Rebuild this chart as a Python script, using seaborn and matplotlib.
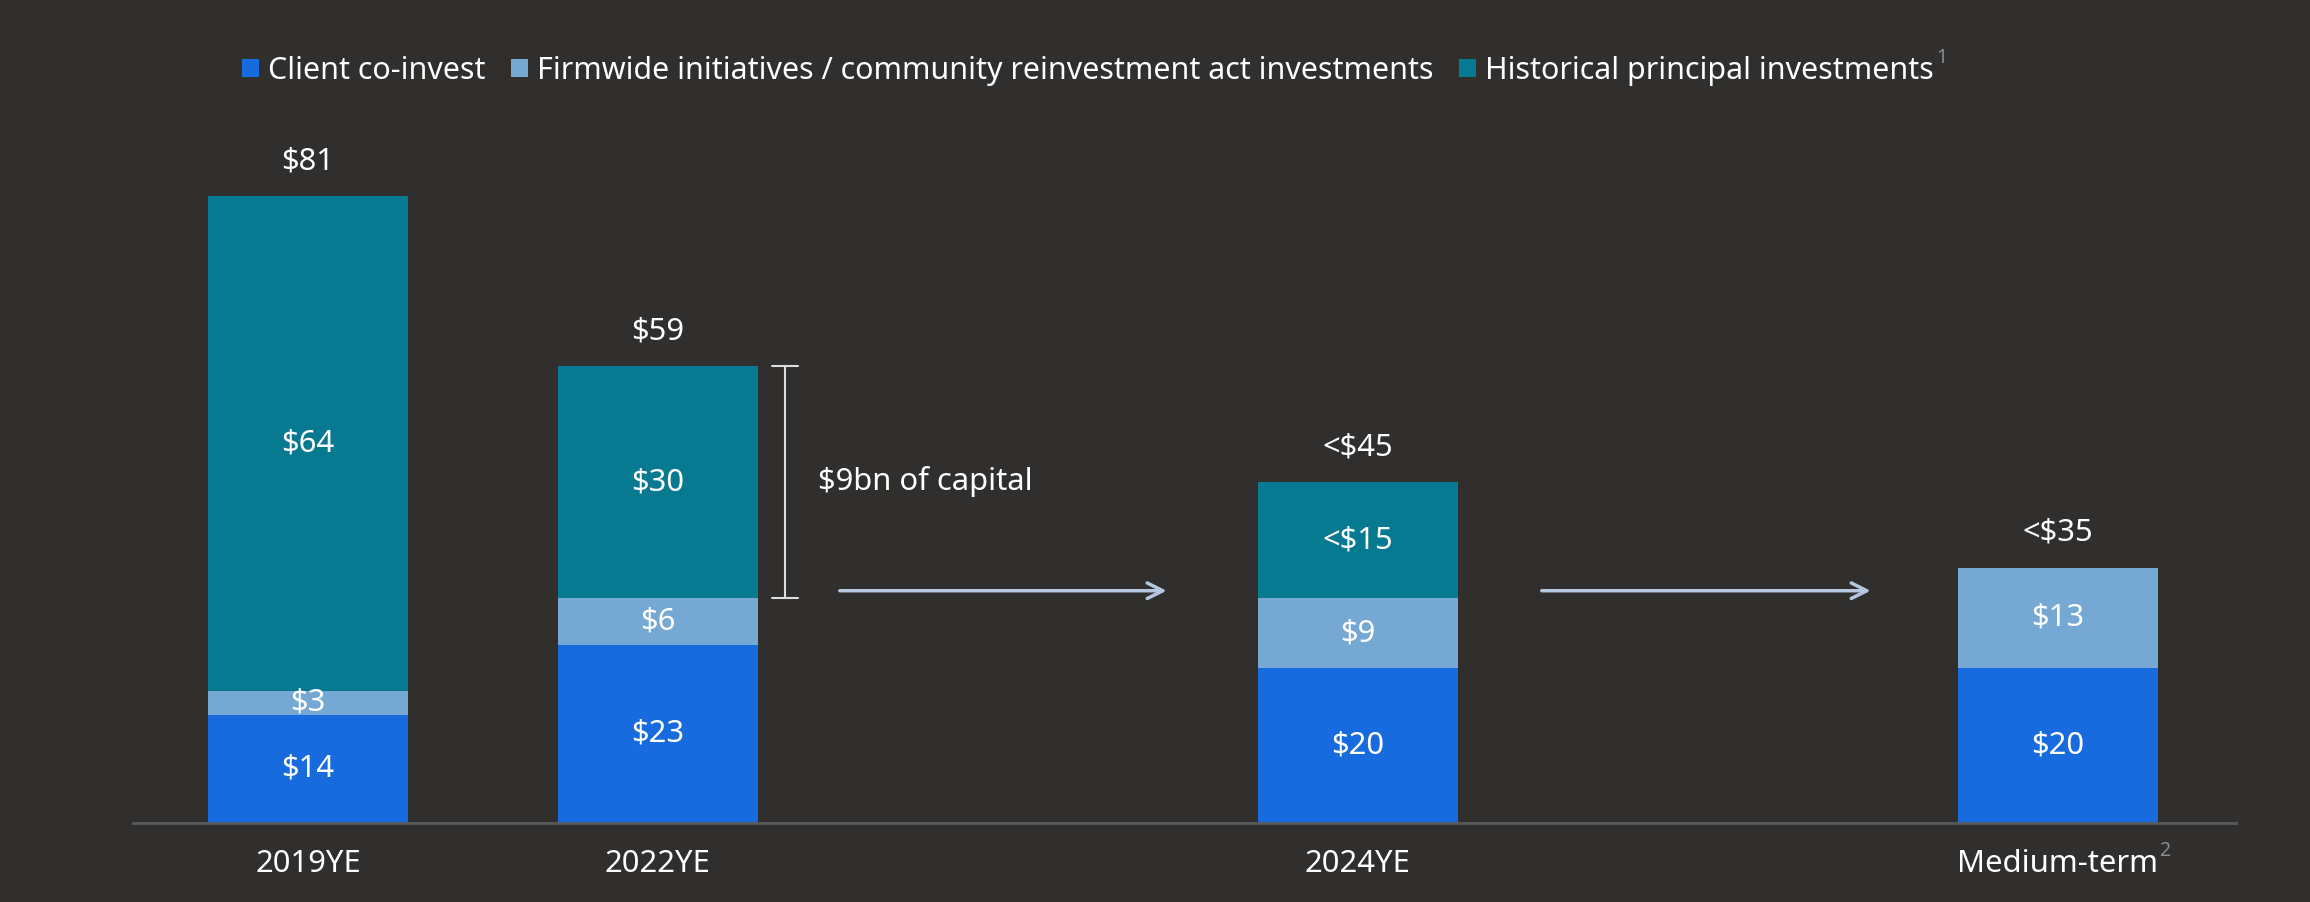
import numpy as np
import pandas as pd
import seaborn as sns
import matplotlib
matplotlib.use("Agg")
import matplotlib.pyplot as plt
from matplotlib.patches import Patch

# ---------------- data ----------------
categories = ["2019YE", "2022YE", "2024YE", "Medium-term"]
positions = [0, 1, 3, 5]
client = [14, 23, 20, 20]
firmwide = [3, 6, 9, 13]
historical = [64, 30, 15, 0]
client_labels = ["$14", "$23", "$20", "$20"]
firmwide_labels = ["$3", "$6", "$9", "$13"]
historical_labels = ["$64", "$30", "<$15", ""]
total_labels = ["$81", "$59", "<$45", "<$35"]
series_names = ["Client co-invest",
                "Firmwide initiatives / community reinvestment act investments",
                "Historical principal investments"]

# ---------------- style ----------------
BG = "#312F2D"
C_BLUE = "#186BDF"
C_LIGHT = "#75A8D2"
C_TEAL = "#077A91"
ARROW = "#B4C6E0"
GREY = "#8C8C8C"
FS = 22.3
LFS = 21.9

sns.set_theme(style="dark", rc={"axes.facecolor": BG, "figure.facecolor": BG})
plt.rcParams["font.family"] = ["Noto Sans", "DejaVu Sans"]

df = pd.DataFrame({
    "category": categories,
    "pos": positions,
    "client": client,
    "firmwide": firmwide,
    "historical": historical,
})
df["lvl2"] = df["client"] + df["firmwide"]
df["total"] = df["lvl2"] + df["historical"]

W, H = 2310, 902
fig = plt.figure(figsize=(W / 100, H / 100), dpi=100, facecolor=BG)
ax = fig.add_axes([133 / W, 79 / H, (2236 - 133) / W, 823 / H])
ax.set_facecolor(BG)

bw = 200 / 350
common = dict(native_scale=True, width=bw, errorbar=None, saturation=1,
              linewidth=0, ax=ax)
sns.barplot(data=df, x="pos", y="total", color=C_TEAL, **common)
sns.barplot(data=df, x="pos", y="lvl2", color=C_LIGHT, **common)
sns.barplot(data=df, x="pos", y="client", color=C_BLUE, **common)

ax.set_xlim(-0.5, 5.51)
ax.set_ylim(0, 106.3)
ax.set_xlabel("")
ax.set_ylabel("")
ax.set_yticks([])
ax.set_xticks(positions)
ax.set_xticklabels(categories, color="white", fontsize=FS)
ax.tick_params(axis="x", length=0, pad=19)
for s in ["top", "left", "right"]:
    ax.spines[s].set_visible(False)
ax.spines["bottom"].set_color("#5A5A5A")
ax.spines["bottom"].set_linewidth(2)
ax.grid(False)

# segment labels
for i, p in enumerate(positions):
    c, f, h = client[i], firmwide[i], historical[i]
    ax.text(p, c / 2, client_labels[i], ha="center", va="center",
            color="white", fontsize=FS)
    ax.text(p, c + f / 2, firmwide_labels[i], ha="center", va="center",
            color="white", fontsize=FS)
    if h > 0:
        ax.text(p, c + f + h / 2, historical_labels[i], ha="center",
                va="center", color="white", fontsize=FS)
    ax.annotate(total_labels[i], (p, c + f + h), xytext=(0, 25),
                textcoords="offset points", ha="center", va="center",
                color="white", fontsize=FS)

# bracket for 2022
bx = 1.363
d = 0.037
top22 = df["total"][1]
low22 = df["lvl2"][1]
ax.plot([bx, bx], [low22, top22], color="#DDDDDD", lw=1.5)
ax.plot([bx - d, bx + d], [top22, top22], color="#DDDDDD", lw=1.5)
ax.plot([bx - d, bx + d], [low22, low22], color="#DDDDDD", lw=1.5)
ax.text(1.457, 44.1, "$9bn of capital", ha="left", va="center",
        color="white", fontsize=FS)

# arrows
for x0, x1 in [(1.52, 2.454), (3.526, 4.466)]:
    ax.annotate("", xy=(x1, 30), xytext=(x0, 30),
                arrowprops=dict(arrowstyle="->", color=ARROW, lw=2.5,
                                mutation_scale=28, shrinkA=0, shrinkB=0))

# legend
handles = [Patch(facecolor=col, edgecolor="none") for col in (C_BLUE, C_LIGHT, C_TEAL)]
leg = fig.legend(handles, series_names, loc="center",
                 bbox_to_anchor=(1088 / W, 1 - 71 / H), ncol=3, frameon=False,
                 fontsize=LFS, labelcolor="white", handlelength=0.55,
                 handleheight=0.55, handletextpad=0.3, columnspacing=0.85)

fig.canvas.draw()
r = fig.canvas.get_renderer()
# superscript 1 after legend
lbb = leg.get_texts()[-1].get_window_extent(r)
fig.text(lbb.x1 / W + 0.001, lbb.y1 / H - 0.002, "1", color=GREY,
         fontsize=14, ha="left", va="center")
# superscript 2 after Medium-term
tl = ax.get_xticklabels()[-1]
tbb = tl.get_window_extent(r)
fig.text(tbb.x1 / W + 0.0005, tbb.y1 / H - 0.002, "2", color=GREY, fontsize=14,
         ha="left", va="center")

fig.savefig("out.png", dpi=100, facecolor=BG)
